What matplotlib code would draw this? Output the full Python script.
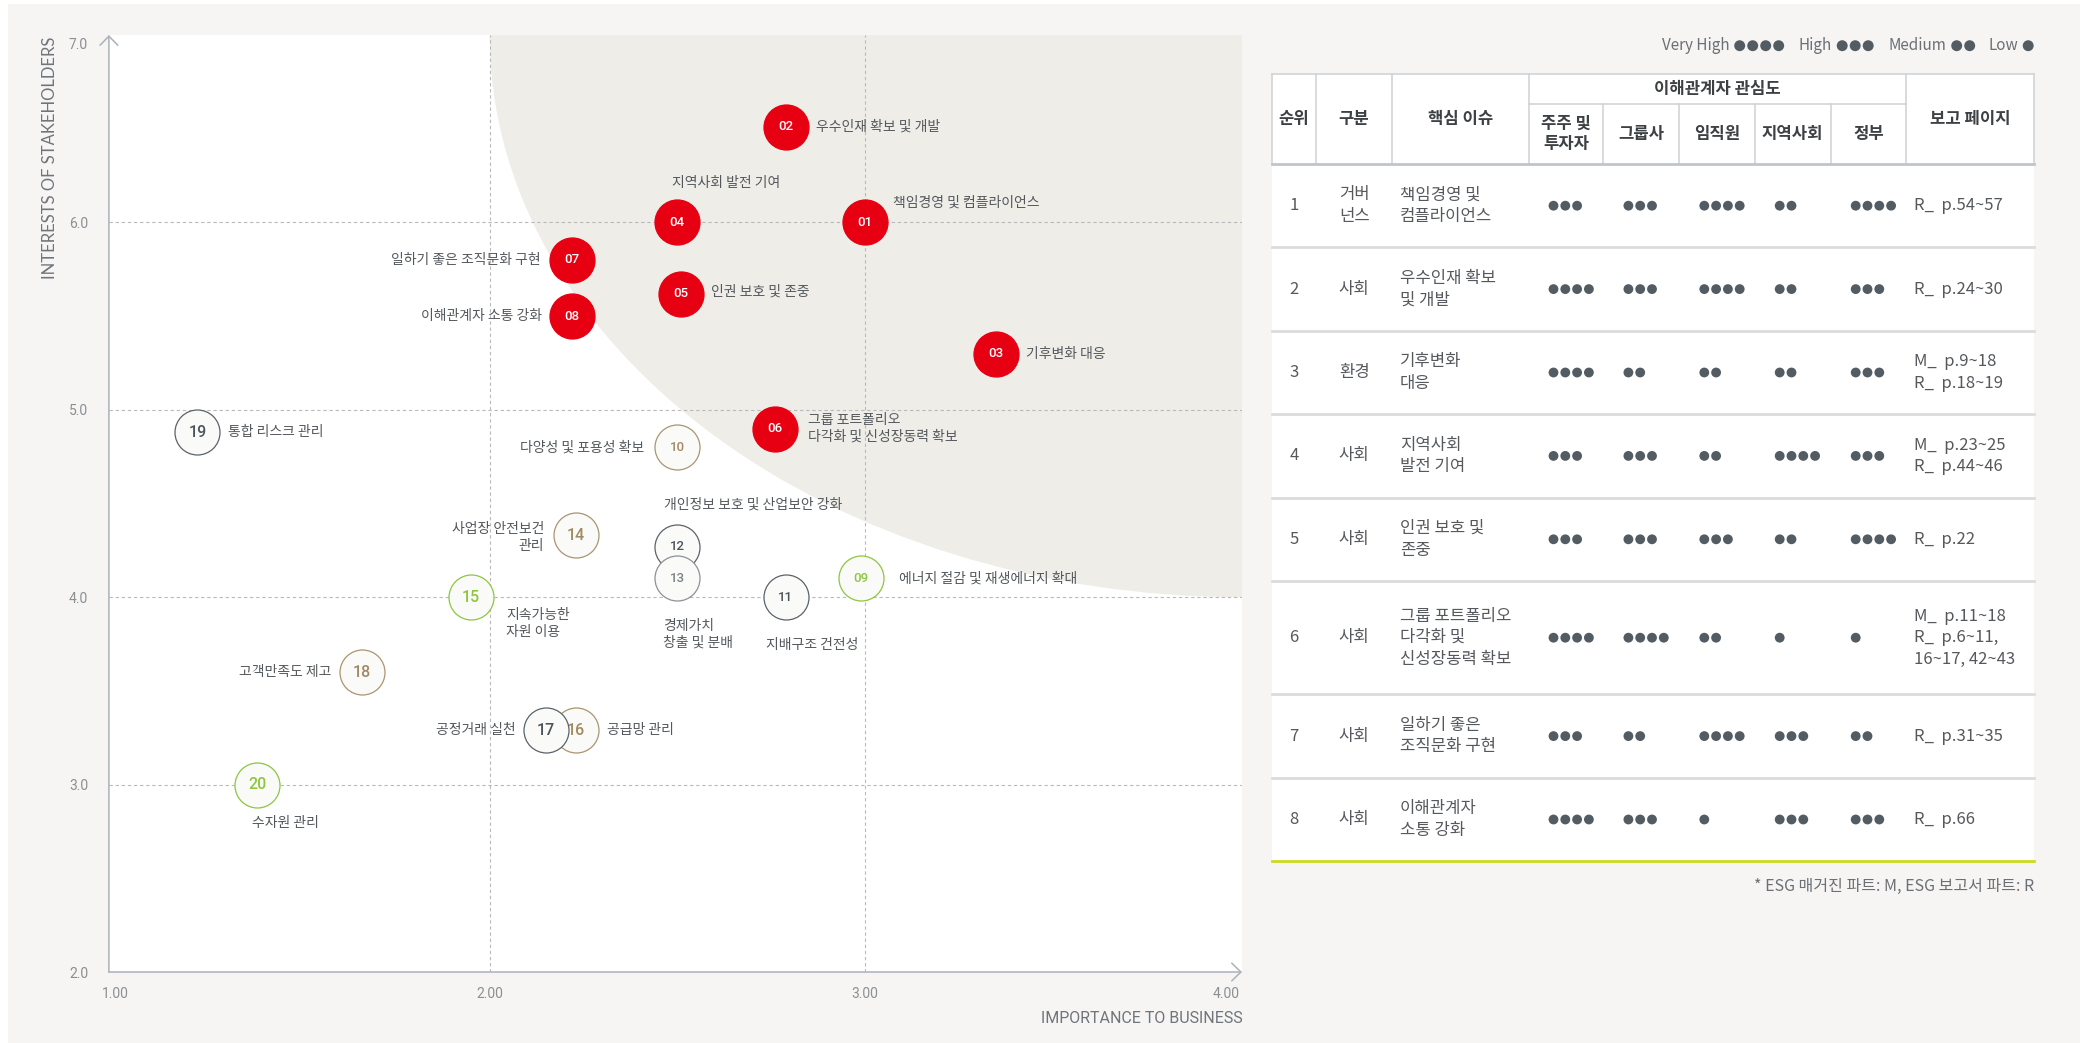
import numpy as np
import matplotlib.pyplot as plt
from matplotlib.patches import Ellipse, Rectangle

plt.rcParams['font.family'] = ['Noto Sans CJK KR', 'DejaVu Sans']

W, H = 2087, 1043

# ---- materiality matrix ----
issue_no = ['01', '02', '03', '04', '05', '06', '07', '08', '09', '10',
            '11', '12', '13', '14', '15', '16', '17', '18', '19', '20']
issue_label = ['책임경영 및 컴플라이언스', '우수인재 확보 및 개발', '기후변화 대응',
               '지역사회 발전 기여', '인권 보호 및 존중',
               '그룹 포트폴리오\n다각화 및 신성장동력 확보',
               '일하기 좋은 조직문화 구현', '이해관계자 소통 강화',
               '에너지 절감 및 재생에너지 확대', '다양성 및 포용성 확보',
               '지배구조 건전성', '개인정보 보호 및 산업보안 강화',
               '경제가치\n창출 및 분배', '사업장 안전보건\n관리', '지속가능한\n자원 이용',
               '공급망 관리', '공정거래 실천', '고객만족도 제고', '통합 리스크 관리',
               '수자원 관리']
business = [3.00, 2.79, 3.35, 2.50, 2.51, 2.76, 2.22, 2.22, 2.99, 2.50,
            2.79, 2.50, 2.50, 2.23, 1.95, 2.23, 2.15, 1.66, 1.22, 1.38]
stakeholders = [6.00, 6.51, 5.30, 6.00, 5.62, 4.90, 5.80, 5.50, 4.10, 4.80,
                4.00, 4.27, 4.10, 4.33, 4.00, 3.29, 3.29, 3.60, 4.88, 3.00]
issue_kind = ['core'] * 8 + ['green', 'tan', 'dark', 'dark', 'grey', 'tan',
                             'green', 'tan', 'dark', 'tan', 'dark', 'green']

# ---- table ----
ranks = ['1', '2', '3', '4', '5', '6', '7', '8']
sectors = ['거버\n넌스', '사회', '환경', '사회', '사회', '사회', '사회', '사회']
key_issues = ['책임경영 및\n컴플라이언스', '우수인재 확보\n및 개발', '기후변화\n대응',
              '지역사회\n발전 기여', '인권 보호 및\n존중',
              '그룹 포트폴리오\n다각화 및\n신성장동력 확보',
              '일하기 좋은\n조직문화 구현', '이해관계자\n소통 강화']
groups = ['주주 및\n투자자', '그룹사', '임직원', '지역사회', '정부']
interest = [[3, 3, 4, 2, 4],
            [4, 3, 4, 2, 3],
            [4, 2, 2, 2, 3],
            [3, 3, 2, 4, 3],
            [3, 3, 3, 2, 4],
            [4, 4, 2, 1, 1],
            [3, 2, 4, 3, 2],
            [4, 3, 1, 3, 3]]
pages = ['R_  p.54~57', 'R_  p.24~30', 'M_  p.9~18\nR_  p.18~19',
         'M_  p.23~25\nR_  p.44~46', 'R_  p.22',
         'M_  p.11~18\nR_  p.6~11,\n16~17, 42~43', 'R_  p.31~35', 'R_  p.66']
level_names = ['Very High', 'High', 'Medium', 'Low']
level_dots = [4, 3, 2, 1]

# label offsets in points and alignment
label_pos = {'01': (20.6, 14.4, 'left'), '02': (21.5, 0, 'left'),
             '03': (21.7, 0, 'left'), '04': (-3.9, 28.5, 'left'),
             '05': (21.8, 1.4, 'left'), '06': (23.8, 0, 'left'),
             '07': (-22.5, 0, 'right'), '08': (-21.6, 0, 'right'),
             '09': (27.4, 0, 'left'), '10': (-23.9, 0, 'right'),
             '11': (-14.6, -34.1, 'left'), '12': (-9.3, 30.2, 'left'),
             '13': (-9.9, -40, 'left'), '14': (-22.8, -1.3, 'right'),
             '15': (25.4, -19.2, 'left'), '16': (22.1, 0, 'left'),
             '17': (-21.8, 0, 'right'), '18': (-22.2, 0, 'right'),
             '19': (22.2, 0, 'left'), '20': (-4, -27.7, 'left')}

kind_style = {'core': ('#e60012', '#e60012', 'white'),
              'green': ('#fafaf8', '#8dc63f', '#8dc63f'),
              'tan': ('#fafaf8', '#aa9571', '#a08a62'),
              'dark': ('#fafaf8', '#5b636a', '#4c545b'),
              'grey': ('#fafaf8', '#8d9296', '#7d8387')}

BG = '#f6f5f3'
SHADE = '#eeede8'
LABEL = '#53585c'
DOT = '#545c63'

fig = plt.figure(figsize=(W / 100, H / 100), dpi=100, facecolor='white')

# background axes in pixel units
bg = fig.add_axes([0, 0, 1, 1])
bg.set_xlim(0, W)
bg.set_ylim(H, 0)
bg.axis('off')
bg.add_patch(Rectangle((8, 4), 2072, H - 4, facecolor=BG, edgecolor='none'))

# ---- matrix axes ----
ax_l, ax_r, ax_t, ax_b = 108.9, 1242, 35, 972
ax = fig.add_axes([ax_l / W, 1 - ax_b / H, (ax_r - ax_l) / W, (ax_b - ax_t) / H])
ax.set_zorder(2)
ax.set_facecolor('white')
xmin, xmax = 0.984, 4.007
ax.set_xlim(xmin, xmax)
ax.set_ylim(2, 7)
for s in ax.spines.values():
    s.set_visible(False)

ax.add_patch(Ellipse((xmax, 7.0), 2 * (xmax - 2.0), 2 * 3.0,
                     facecolor=SHADE, edgecolor='none', zorder=0))
for gx in [2, 3]:
    ax.axvline(gx, color='#b9b9b9', lw=0.8, ls=(0, (3, 2.5)), zorder=1)
for gy in [3, 4, 5, 6]:
    ax.axhline(gy, color='#b9b9b9', lw=0.8, ls=(0, (3, 2.5)), zorder=1)

axis_col = '#aab2b9'
arrow = dict(arrowstyle='->,head_length=0.33,head_width=0.32', color=axis_col,
             lw=1.1, shrinkA=0, shrinkB=0, mutation_scale=20)
ax.annotate('', xy=(0, 1), xytext=(0, 0), xycoords='axes fraction',
            arrowprops=arrow, annotation_clip=False)
ax.annotate('', xy=(1, 0), xytext=(0, 0), xycoords='axes fraction',
            arrowprops=arrow, annotation_clip=False)

tick_col = '#8a8f93'
ax.set_xticks([1, 2, 3, 4])
ax.set_xticklabels(['1.00', '2.00', '3.00', '4.00'])
ax.set_yticks([2, 3, 4, 5, 6])
ax.set_yticklabels(['2.0', '3.0', '4.0', '5.0', '6.0'])
ax.tick_params(length=0, labelcolor=tick_col, labelsize=10)
ax.tick_params(axis='x', pad=11)
ax.tick_params(axis='y', pad=15)
for t in ax.get_xticklabels() + ax.get_yticklabels():
    t.set_family('Roboto')
ax.get_xticklabels()[-1].set_ha('right')
# top label sits a little below the arrow tip
ax.annotate('7.0', (xmin, 7), xytext=(-15, -7), textcoords='offset points',
            ha='right', va='center', family='Roboto', fontsize=10,
            color=tick_col, annotation_clip=False)

for i, no in enumerate(issue_no):
    face, edge, txt = kind_style[issue_kind[i]]
    z = 3 + i * 0.01
    ax.scatter(business[i], stakeholders[i], s=1050, facecolor=face,
               edgecolor=edge, linewidth=0.9, zorder=z, clip_on=False)
    big = int(no) >= 14
    ax.text(business[i], stakeholders[i], no, ha='center', va='center',
            color=txt, family='Roboto', fontsize=11.5 if big else 9.5,
            fontweight='medium', zorder=z + 0.005)
    dx, dy, ha = label_pos[no]
    ax.annotate(issue_label[i], (business[i], stakeholders[i]), xytext=(dx, dy),
                textcoords='offset points', ha=ha, va='center', ma=ha,
                fontsize=10, color=LABEL, linespacing=1.25, zorder=4)

fig.text(50.4 / W, 1 - 36.7 / H, 'INTERESTS OF STAKEHOLDERS', rotation=90,
         ha='center', va='top', family='Lato', fontsize=12, color='#6e757b')
fig.text(1243 / W, 1 - 1018.6 / H, 'IMPORTANCE TO BUSINESS', ha='right',
         va='center', family='Roboto', fontsize=11.5, color='#6e757b')

# ---- legend of interest levels ----
x = 2033.7
ly = 45.7
for name, n in reversed(list(zip(level_names, level_dots))):
    xs = x - 5.5 - 13.0 * np.arange(n)
    bg.scatter(xs, [ly] * n, s=62, color=DOT, edgecolor='none', zorder=5)
    x = xs[-1] - 10
    bg.text(x, ly, name, ha='right', va='center', fontsize=11, color='#6b7075')
    x -= {'Very High': 70, 'High': 35, 'Medium': 60, 'Low': 30}[name] + 13

# ---- table ----
cols = [1271.6, 1316.4, 1391.9, 1528.5, 1603.4, 1679.3, 1754.7, 1830.7, 1906, 2034.3]
t_top, t_mid, t_head = 74, 104, 164
n_lines = [max(k.count('\n'), p.count('\n')) + 1 for k, p in zip(key_issues, pages)]
row_h = [83.4 + 30 * max(n - 2, 0) for n in n_lines]
row_edges = t_head + np.concatenate([[0], np.cumsum(row_h)])

bg.add_patch(Rectangle((cols[0], t_top), cols[-1] - cols[0], row_edges[-1] - t_top,
                       facecolor='white', edgecolor='none', zorder=1))
grid_col = '#cdd2d6'
bg.plot([cols[0], cols[-1]], [t_top, t_top], color=grid_col, lw=1.1, zorder=2)
bg.plot([cols[3], cols[8]], [t_mid, t_mid], color=grid_col, lw=1.1, zorder=2)
for j, cx in enumerate(cols):
    y0 = t_mid if 3 < j < 8 else t_top
    bg.plot([cx, cx], [y0, t_head], color=grid_col, lw=1.1, zorder=2)
bg.plot([cols[0], cols[-1]], [t_head, t_head], color='#bfc5ca', lw=2.0, zorder=3)

hdr = dict(ha='center', va='center', fontsize=12, fontweight='bold', color='#3d4144',
           linespacing=1.15, zorder=4)
head_mid = (t_top + t_head) / 2
bg.text((cols[0] + cols[1]) / 2, head_mid, '순위', **hdr)
bg.text((cols[1] + cols[2]) / 2, head_mid, '구분', **hdr)
bg.text((cols[2] + cols[3]) / 2, head_mid, '핵심 이슈', **hdr)
bg.text((cols[3] + cols[8]) / 2, (t_top + t_mid) / 2, '이해관계자 관심도', **hdr)
for j, g in enumerate(groups):
    bg.text((cols[3 + j] + cols[4 + j]) / 2, (t_mid + t_head) / 2, g, **hdr)
bg.text((cols[8] + cols[9]) / 2, head_mid, '보고 페이지', **hdr)

body = dict(va='center', fontsize=12, color='#55595d', linespacing=1.35, zorder=4)
for r in range(len(ranks)):
    yc = (row_edges[r] + row_edges[r + 1]) / 2
    bg.text((cols[0] + cols[1]) / 2, yc, ranks[r], ha='center', **body)
    bg.text((cols[1] + cols[2]) / 2, yc, sectors[r], ha='center', **body)
    bg.text(cols[2] + 8, yc, key_issues[r], ha='left', **body)
    for j in range(len(groups)):
        n = interest[r][j]
        xs = cols[3 + j] + 25 + 11.8 * np.arange(n)
        bg.scatter(xs, [yc] * n, s=50, color=DOT, edgecolor='none', zorder=5)
    bg.text(cols[8] + 8, yc, pages[r], ha='left', **body)
    last = r == len(ranks) - 1
    bg.plot([cols[0], cols[-1]], [row_edges[r + 1]] * 2,
            color='#cbdc1f' if last else '#dcdcdc', lw=2.0, zorder=3)

bg.text(cols[-1], 886, '* ESG 매거진 파트: M, ESG 보고서 파트: R', ha='right',
        va='center', fontsize=11.5, color='#6b7075')

fig.savefig('out.png', dpi=100, facecolor=fig.get_facecolor())
